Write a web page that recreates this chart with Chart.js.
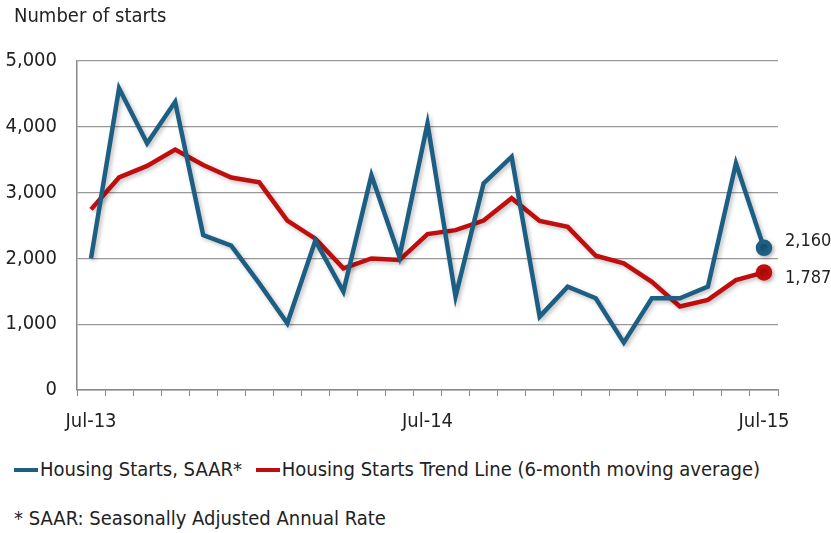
<!DOCTYPE html>
<html>
<head>
<meta charset="utf-8">
<script src="https://cdn.jsdelivr.net/npm/chart.js@4"></script>
<style>
  body { margin: 0; background: #fff; font-family: 'DejaVu Sans Condensed', sans-serif; color: #222; }
  #wrap { position: relative; width: 831px; height: 533px; overflow: hidden; }
  #box { position: absolute; left: 0; top: 0; width: 831px; height: 440px; }
  .txt { position: absolute; font-size: 20px; white-space: nowrap; }
  .mk { display: inline-block; width: 24px; height: 4px; vertical-align: middle; margin-right: 2px; position: relative; top: -1px; }
</style>
</head>
<body>
<div id="wrap">
  <div id="box"><canvas id="myChart"></canvas></div>
  <div class="txt" style="left:14px; top:3px;">Number of starts</div>
  <div class="txt" style="left:14px; top:457px;">
    <span class="mk" style="background:#1d5f82"></span>Housing Starts, SAAR*
    <span class="mk" style="background:#c00d0d; margin-left:8px"></span>Housing Starts Trend Line (6-month moving average)
  </div>
  <div class="txt" style="left:14px; top:506px;">* SAAR: Seasonally Adjusted Annual Rate</div>
</div>
<script>
const months = ['Jul-13', 'Aug-13', 'Sep-13', 'Oct-13', 'Nov-13', 'Dec-13', 'Jan-14', 'Feb-14', 'Mar-14',
    'Apr-14', 'May-14', 'Jun-14', 'Jul-14', 'Aug-14', 'Sep-14', 'Oct-14', 'Nov-14', 'Dec-14',
    'Jan-15', 'Feb-15', 'Mar-15', 'Apr-15', 'May-15', 'Jun-15', 'Jul-15'];
const shownLabels = ['Jul-13', 'Jul-14', 'Jul-15'];
const starts = [2000, 4585, 3750, 4380, 2355, 2195, 1620, 1015, 2270, 1495, 3265, 2025, 4050,
    1420, 3140, 3545, 1115, 1570, 1395, 720, 1395, 1395, 1570, 3445, 2160];
const trend = [2745, 3230, 3405, 3655, 3420, 3230, 3155, 2575, 2300, 1850, 2000, 1975, 2370,
    2430, 2575, 2915, 2570, 2480, 2040, 1925, 1645, 1270, 1370, 1670, 1787];

const blue = '#1d5f82';
const red = '#c00d0d';
const last = months.length - 1;
const fontFam = "'DejaVu Sans Condensed', sans-serif";

const endLabels = {
    id: 'endLabels',
    afterDatasetsDraw(chart) {
        const c = chart.ctx;
        c.save();
        c.font = '18px ' + fontFam;
        c.fillStyle = '#222';
        c.textBaseline = 'middle';
        chart.data.datasets.forEach((ds, i) => {
            const pt = chart.getDatasetMeta(i).data[last];
            const v = ds.data[last];
            c.fillText(v.toLocaleString('en-US'), pt.x + 21, pt.y + (i === 0 ? -7 : 6));
        });
        c.restore();
    }
};

const shadow = {
    id: 'shadow',
    beforeDatasetDraw(chart) {
        const c = chart.ctx;
        c.save();
        c.shadowColor = 'rgba(0,0,0,0.25)';
        c.shadowBlur = 4;
        c.shadowOffsetX = 2;
        c.shadowOffsetY = 2;
    },
    afterDatasetDraw(chart) {
        chart.ctx.restore();
    }
};

const ctx = document.getElementById('myChart').getContext('2d');
chart = new Chart(ctx, {
    type: 'line',
    data: {
        labels: months,
        datasets: [{
            label: 'Housing Starts, SAAR*',
            data: starts,
            borderColor: blue,
            backgroundColor: blue,
            borderWidth: 4.5,
            tension: 0,
            pointRadius: c => c.dataIndex === last ? 6 : 0
        }, {
            label: 'Housing Starts Trend Line (6-month moving average)',
            data: trend,
            borderColor: red,
            backgroundColor: red,
            borderWidth: 4.5,
            tension: 0,
            pointRadius: c => c.dataIndex === last ? 6 : 0
        }]
    },
    options: {
        responsive: true,
        maintainAspectRatio: false,
        animation: false,
        layout: { padding: { left: 0, right: 53, top: 61, bottom: 0 } },
        plugins: {
            legend: { display: false },
            tooltip: { enabled: false }
        },
        scales: {
            x: {
                offset: true,
                afterFit: s => { s.height = 50; },
                grid: { offset: true, drawOnChartArea: false, tickLength: 6, color: '#888' },
                border: { color: '#888', width: 1.5 },
                ticks: {
                    autoSkip: false,
                    maxRotation: 0,
                    padding: 14,
                    color: '#222',
                    font: { family: fontFam, size: 20 },
                    callback: function (value) {
                        const l = this.getLabelForValue(value);
                        return shownLabels.includes(l) ? l : '';
                    }
                }
            },
            y: {
                min: 0,
                max: 5000,
                afterFit: s => { s.width = 77; },
                grid: { color: '#999', lineWidth: 1.2, drawTicks: false },
                border: { color: '#888', width: 1.5 },
                ticks: {
                    stepSize: 1000,
                    padding: 20,
                    color: '#222',
                    font: { family: fontFam, size: 20 },
                    callback: v => v.toLocaleString('en-US')
                }
            }
        }
    },
    plugins: [shadow, endLabels]
});
</script>
</body>
</html>
